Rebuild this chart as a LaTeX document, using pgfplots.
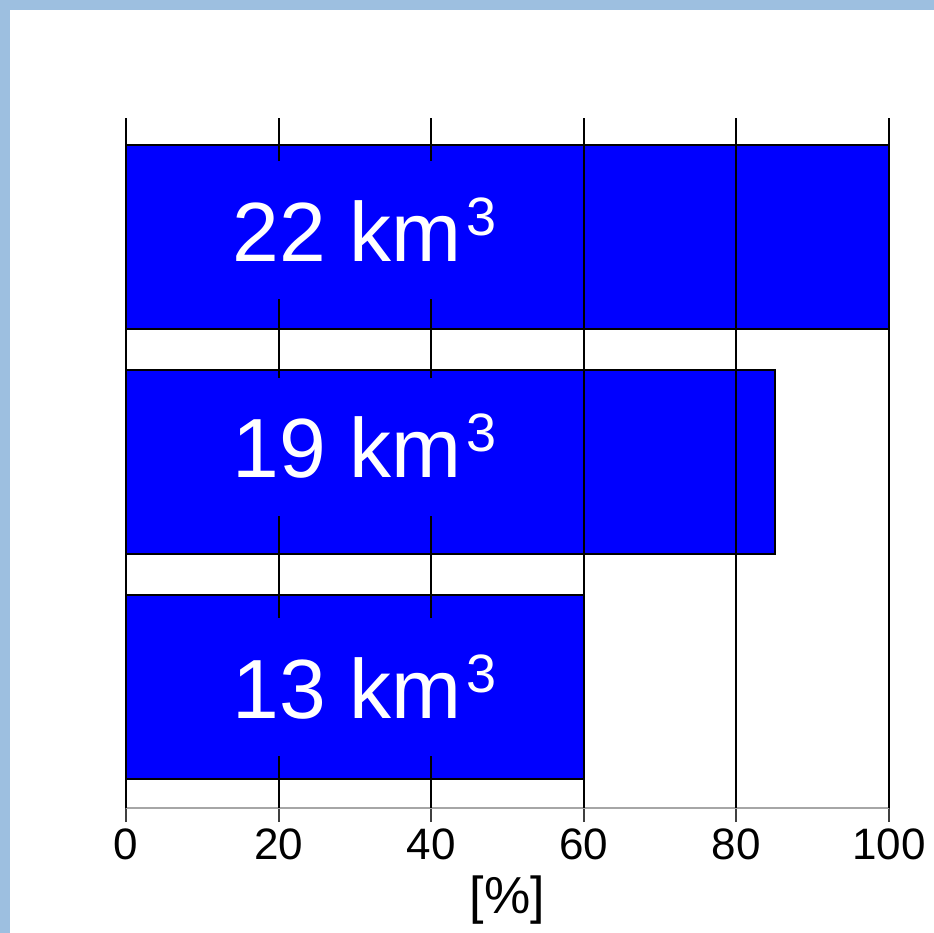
\documentclass[border=0pt]{standalone}
\usepackage{pgfplots}
\pgfplotsset{compat=1.18}
\usepackage{fontspec}
\setmainfont{Liberation Sans}
\definecolor{bgblue}{HTML}{9DBFE0}
\definecolor{barblue}{HTML}{0000FF}
\newcommand{\cubed}{\kern2.5pt\raisebox{13pt}{\fontsize{27}{27}\selectfont 3}}
\begin{document}
\begin{tikzpicture}
\fill[bgblue] (0,0) rectangle (467pt,-466.5pt);
\fill[white] (5pt,-5pt) rectangle (467pt,-466.5pt);
\begin{axis}[
 at={(63pt,-404pt)}, anchor=south west,
 scale only axis, width=381.5pt, height=345pt,
 xmin=0, xmax=100, ymin=0.464, ymax=3.531,
 axis y line=none, axis x line*=bottom,
 x axis line style={gray!70, line width=1pt},
 xtick={0,20,...,100},
 tick align=outside, major tick length=7pt,
 tick style={black!75, line width=1pt},
 xticklabel style={font=\fontsize{22}{22}\selectfont},
 /pgf/number format/assume math mode=true,
 xlabel={[\%]}, xlabel style={font=\fontsize{26}{26}\selectfont, yshift=-1pt},
 clip=false,
]
\addplot[xbar, bar width=92pt, fill=barblue, draw=black, line width=1pt] coordinates {(100,3) (85,2) (60,1)};
\pgfplotsinvokeforeach{0,20,40,60,80,100}{
\addplot[black, line width=1pt] coordinates {(#1,0.464) (#1,3.531)};
}
\node[fill=barblue, text=white, anchor=base, minimum width=170pt, minimum height=69pt, inner sep=0pt, font=\fontsize{42}{42}\selectfont] at (axis cs:31.3,2.891) {22 km\cubed};
\node[fill=barblue, text=white, anchor=base, minimum width=170pt, minimum height=69pt, inner sep=0pt, font=\fontsize{42}{42}\selectfont] at (axis cs:31.3,1.931) {19 km\cubed};
\node[fill=barblue, text=white, anchor=base, minimum width=170pt, minimum height=69pt, inner sep=0pt, font=\fontsize{42}{42}\selectfont] at (axis cs:31.3,0.864) {13 km\cubed};
\end{axis}
\end{tikzpicture}
\end{document}
